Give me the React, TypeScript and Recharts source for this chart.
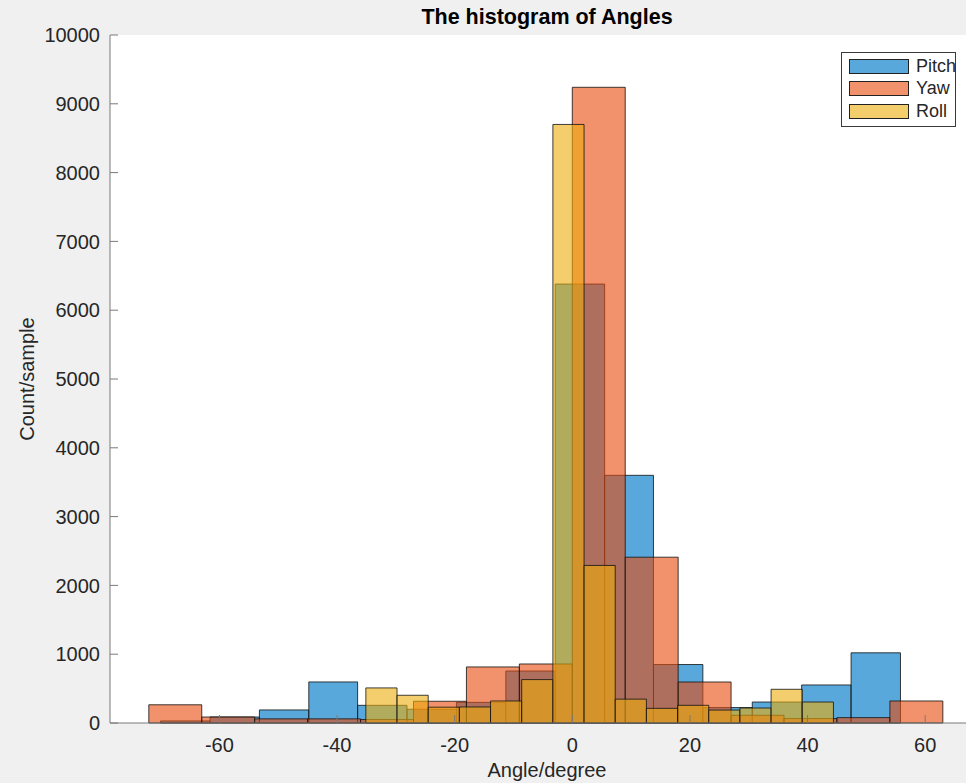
import React from 'react';
import { ComposedChart, XAxis, YAxis, ReferenceArea, CartesianGrid } from 'recharts';

// Histogram bin edges (degrees) and counts per bin, one set per angle
const pitchEdges = [-70.0, -61.6, -53.2, -44.8, -36.5, -28.1, -19.7, -11.3, -2.9, 5.5, 13.8, 22.2, 30.6, 39.0, 47.4, 55.8];
const pitchCounts = [30, 87, 190, 597, 257, 200, 300, 756, 6380, 3600, 850, 224, 305, 553, 1020];

const yawEdges = [-72, -63, -54, -45, -36, -27, -18, -9, 0, 9, 18, 27, 36, 45, 54, 63];
const yawCounts = [265, 87, 60, 60, 50, 316, 815, 858, 9240, 2410, 596, 112, 64, 78, 320];

const rollEdges = [-35.1, -29.8, -24.5, -19.2, -13.9, -8.6, -3.3, 2.0, 7.3, 12.6, 17.9, 23.2, 28.5, 33.8, 39.1, 44.4];
const rollCounts = [510, 403, 230, 233, 320, 631, 8700, 2290, 347, 213, 257, 188, 218, 490, 305];

const xTicks = [-60, -40, -20, 0, 20, 40, 60];
const yTicks = [0, 1000, 2000, 3000, 4000, 5000, 6000, 7000, 8000, 9000, 10000];

const series = [
  { name: 'Pitch', color: '#007AC8', alpha: 0.65, edges: pitchEdges, counts: pitchCounts },
  { name: 'Yaw', color: '#E9490A', alpha: 0.6, edges: yawEdges, counts: yawCounts },
  { name: 'Roll', color: '#EDAD0A', alpha: 0.6, edges: rollEdges, counts: rollCounts },
];

const AXIS = '#262626';
const FONT = '"Liberation Sans", Arial, Helvetica, sans-serif';

function HistLegend() {
  return (
    <div
      style={{
        position: 'absolute',
        left: 841,
        top: 52,
        width: 115,
        height: 75,
        border: '1px solid #3a3a3a',
        background: '#fff',
        boxSizing: 'border-box',
      }}
    >
      {series.map((s, i) => (
        <div
          key={s.name}
          style={{ position: 'absolute', left: 7, top: 5 + i * 22.3, height: 17, display: 'flex', alignItems: 'center' }}
        >
          <div style={{ width: 60, height: 15, background: '#fff', position: 'relative' }}>
            <div
              style={{
                position: 'absolute',
                inset: 0,
                background: s.color,
                opacity: s.alpha,
              }}
            />
            <div style={{ position: 'absolute', inset: 0, border: '1px solid #222', boxSizing: 'border-box' }} />
          </div>
          <span style={{ marginLeft: 7, fontSize: 18, color: AXIS, lineHeight: '17px' }}>{s.name}</span>
        </div>
      ))}
    </div>
  );
}

export default function App() {
  return (
    <div
      style={{
        position: 'absolute',
        left: 0,
        top: 0,
        width: 966,
        height: 783,
        overflow: 'hidden',
        background: '#f0f0f0',
        fontFamily: FONT,
      }}
    >
      <div
        style={{
          position: 'absolute',
          left: 110,
          top: 5,
          width: 874,
          textAlign: 'center',
          fontWeight: 'bold',
          fontSize: 21.5,
          lineHeight: '24px',
          color: '#000',
        }}
      >
        The histogram of Angles
      </div>
      <ComposedChart width={990} height={783} margin={{ top: 35, right: 6, bottom: 0, left: 0 }}>
        <CartesianGrid horizontal={false} vertical={false} fill="#ffffff" />
        <XAxis
          type="number"
          dataKey="x"
          domain={[-78.6, 70]}
          allowDataOverflow
          ticks={xTicks}
          height={60}
          tickSize={-8}
          tickMargin={23}
          tick={{ fontSize: 20, fill: AXIS }}
          stroke="#7a7a7a"
          label={{ value: 'Angle/degree', position: 'insideBottom', offset: 6, style: { fontSize: 20, fill: AXIS } }}
        />
        <XAxis
          xAxisId="top"
          orientation="top"
          type="number"
          domain={[-78.6, 70]}
          allowDataOverflow
          ticks={xTicks}
          height={0}
          tickSize={-8}
          tick={false}
          stroke="#7a7a7a"
        />
        <YAxis
          type="number"
          domain={[0, 10000]}
          allowDataOverflow
          ticks={yTicks}
          width={110}
          tickSize={-8}
          tickMargin={18}
          tick={{ fontSize: 20, fill: AXIS }}
          stroke="#7a7a7a"
          label={{
            value: 'Count/sample',
            angle: -90,
            position: 'insideLeft',
            offset: 27,
            style: { fontSize: 20, fill: AXIS, textAnchor: 'middle' },
          }}
        />
        {series.map((s) =>
          s.counts.map((c, i) => (
            <ReferenceArea
              key={`${s.name}-${i}`}
              x1={s.edges[i]}
              x2={s.edges[i + 1]}
              y1={0}
              y2={c}
              fill={s.color}
              fillOpacity={s.alpha}
              stroke="#111111"
              strokeOpacity={0.8}
              strokeWidth={1}
            />
          ))
        )}
      </ComposedChart>
      <HistLegend />
    </div>
  );
}
